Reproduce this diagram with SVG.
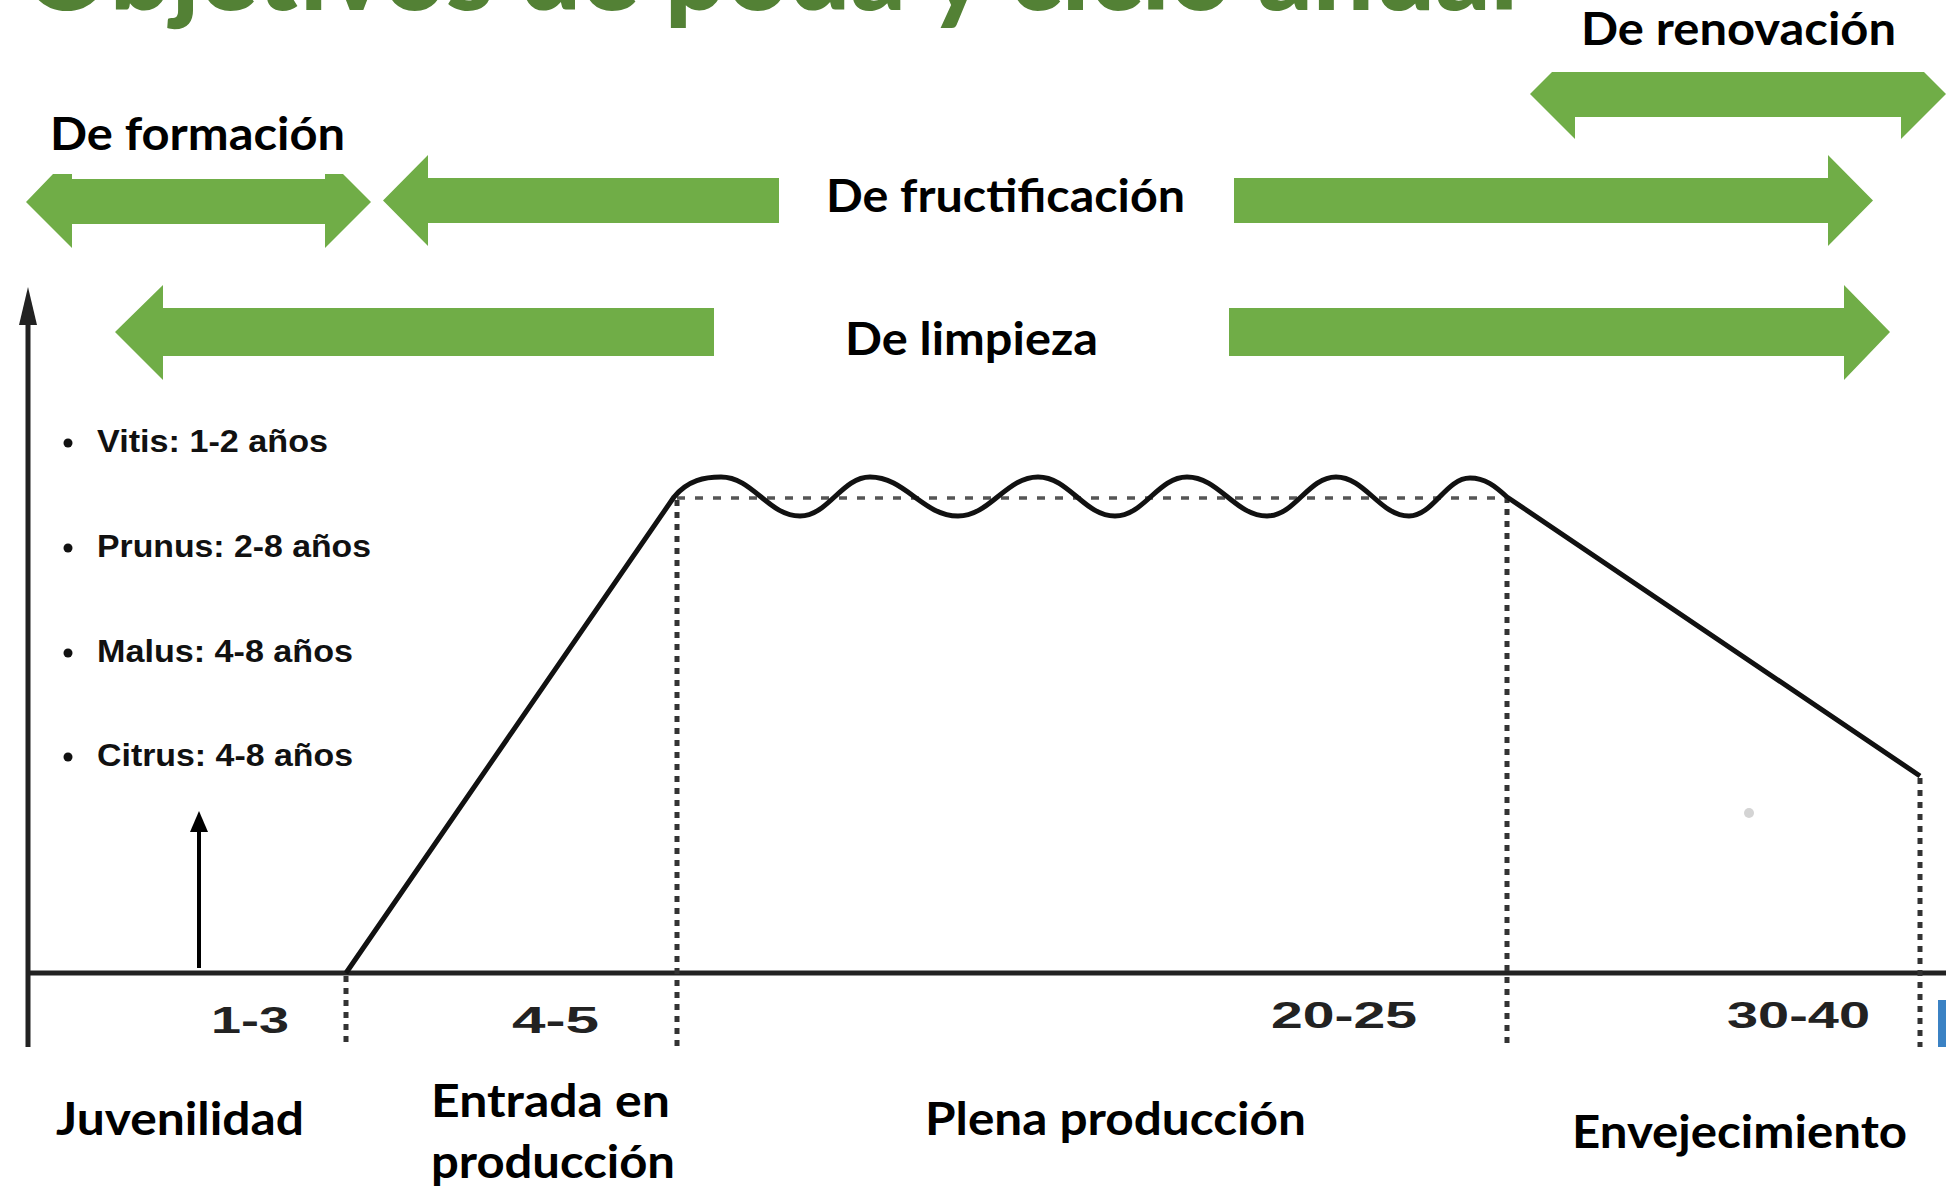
<svg xmlns="http://www.w3.org/2000/svg" width="1946" height="1188" viewBox="0 0 1946 1188">
<defs>
<style>
.title{font-family:Lato,"Open Sans","Liberation Sans",sans-serif;font-weight:900;font-size:110px;fill:#538135}
.lbl{font-family:Lato,"Open Sans","Liberation Sans",sans-serif;font-weight:700;font-size:46px;fill:#000}
.bul{font-family:"Liberation Sans",Arial,sans-serif;font-weight:700;font-size:32px;fill:#111}
.num{font-family:"Liberation Sans",Arial,sans-serif;font-weight:700;font-size:36px;fill:#222}
.arrow{fill:#70AD47}
.axis{stroke:#222;stroke-width:5;fill:none}
.dash{stroke:#333;stroke-width:5;stroke-dasharray:6 6;fill:none}
.curve{stroke:#111;stroke-width:5;fill:none;stroke-linejoin:round}
</style>
</defs>
<rect width="1946" height="1188" fill="#fff"/>

<g id="title">
<text class="title" x="23" y="10" textLength="1495" lengthAdjust="spacingAndGlyphs">Objetivos de poda y ciclo anual</text>
</g>

<g id="formacion">
<polygon class="arrow" points="26,202 53,174 72,174 72,179 325,179 325,174 343,174 371,202 325,248 325,224 72,224 72,248"/>
<text class="lbl" x="50" y="150" textLength="295" lengthAdjust="spacingAndGlyphs">De formación</text>
</g>

<g id="fructificacion">
<polygon class="arrow" points="383,200.5 428,155 428,178 779,178 779,223 428,223 428,246"/>
<polygon class="arrow" points="1234,178 1828,178 1828,155 1873,200.5 1828,246 1828,223 1234,223"/>
<text class="lbl" x="826" y="212" textLength="359" lengthAdjust="spacingAndGlyphs">De fructificación</text>
</g>

<g id="limpieza">
<polygon class="arrow" points="115,332 163,285 163,308 714,308 714,356 163,356 163,380"/>
<polygon class="arrow" points="1229,308 1844,308 1844,285 1890,332 1844,380 1844,356 1229,356"/>
<text class="lbl" x="845" y="355" textLength="253" lengthAdjust="spacingAndGlyphs">De limpieza</text>
</g>

<g id="renovacion">
<polygon class="arrow" points="1530,94 1552,72 1924,72 1946,94 1901,139 1901,117 1575,117 1575,139"/>
<text class="lbl" x="1581" y="45" textLength="315" lengthAdjust="spacingAndGlyphs">De renovación</text>
</g>

<g id="axes">
<line class="axis" x1="28" y1="305" x2="28" y2="1047" stroke="#3a3a3a"/>
<polygon points="28,287 19,325 37,325" fill="#222"/>
<line class="axis" x1="26" y1="973" x2="1946" y2="973" stroke-width="6"/>
</g>

<g id="species-list">
<circle cx="68" cy="443" r="4.5" fill="#111"/>
<text class="bul" x="97" y="452" textLength="231" lengthAdjust="spacingAndGlyphs">Vitis: 1-2 años</text>
<circle cx="68" cy="548" r="4.5" fill="#111"/>
<text class="bul" x="97" y="557" textLength="274" lengthAdjust="spacingAndGlyphs">Prunus: 2-8 años</text>
<circle cx="68" cy="653" r="4.5" fill="#111"/>
<text class="bul" x="97" y="662" textLength="256" lengthAdjust="spacingAndGlyphs">Malus: 4-8 años</text>
<circle cx="68" cy="757" r="4.5" fill="#111"/>
<text class="bul" x="97" y="766" textLength="256" lengthAdjust="spacingAndGlyphs">Citrus: 4-8 años</text>
</g>

<g id="connectors">
<line x1="199" y1="968" x2="199" y2="826" stroke="#000" stroke-width="4"/>
<polygon points="199,811 190,832 208,832" fill="#000"/>
<line class="dash" x1="346" y1="976" x2="346" y2="1047"/>
<line class="dash" x1="677" y1="500" x2="677" y2="1047"/>
<line class="dash" x1="1507" y1="497" x2="1507" y2="1047"/>
<line class="dash" x1="1920" y1="778" x2="1920" y2="1047"/>
<line x1="677" y1="498" x2="1507" y2="498" stroke="#555" stroke-width="3.5" stroke-dasharray="8 10"/>
<path class="curve" d="M 346 973 L 674 497 C 688 480, 705 477, 721 477 C 753 477, 768 516, 800 516 C 828 516, 842 477, 870 477 C 905 477, 923 516, 958 516 C 990 516, 1006 477, 1038 477 C 1069 477, 1084 516, 1115 516 C 1144 516, 1158 477, 1187 477 C 1219 477, 1235 516, 1267 516 C 1295 516, 1308 477, 1336 477 C 1365 477, 1380 516, 1409 516 C 1433 516, 1446 478, 1470 478 C 1485 478, 1495 486, 1507 497 L 1920 776"/>
<circle cx="1749" cy="813" r="5" fill="#d4d4d4"/>
<rect x="1938" y="1000" width="8" height="47" fill="#3b82c4"/>
</g>

<g id="year-ranges">
<text class="num" x="211" y="1033" textLength="78" lengthAdjust="spacingAndGlyphs">1-3</text>
<text class="num" x="512" y="1033" textLength="87" lengthAdjust="spacingAndGlyphs">4-5</text>
<text class="num" x="1271" y="1028" textLength="146" lengthAdjust="spacingAndGlyphs">20-25</text>
<text class="num" x="1727" y="1028" textLength="143" lengthAdjust="spacingAndGlyphs">30-40</text>
</g>

<g id="phases">
<text class="lbl" x="56" y="1135" textLength="248" lengthAdjust="spacingAndGlyphs">Juvenilidad</text>
<text class="lbl" x="431" y="1117" textLength="239" lengthAdjust="spacingAndGlyphs">Entrada en</text>
<text class="lbl" x="431" y="1178" textLength="244" lengthAdjust="spacingAndGlyphs">producción</text>
<text class="lbl" x="925" y="1135" textLength="381" lengthAdjust="spacingAndGlyphs">Plena producción</text>
<text class="lbl" x="1572" y="1148" textLength="335" lengthAdjust="spacingAndGlyphs">Envejecimiento</text>
</g>
</svg>
